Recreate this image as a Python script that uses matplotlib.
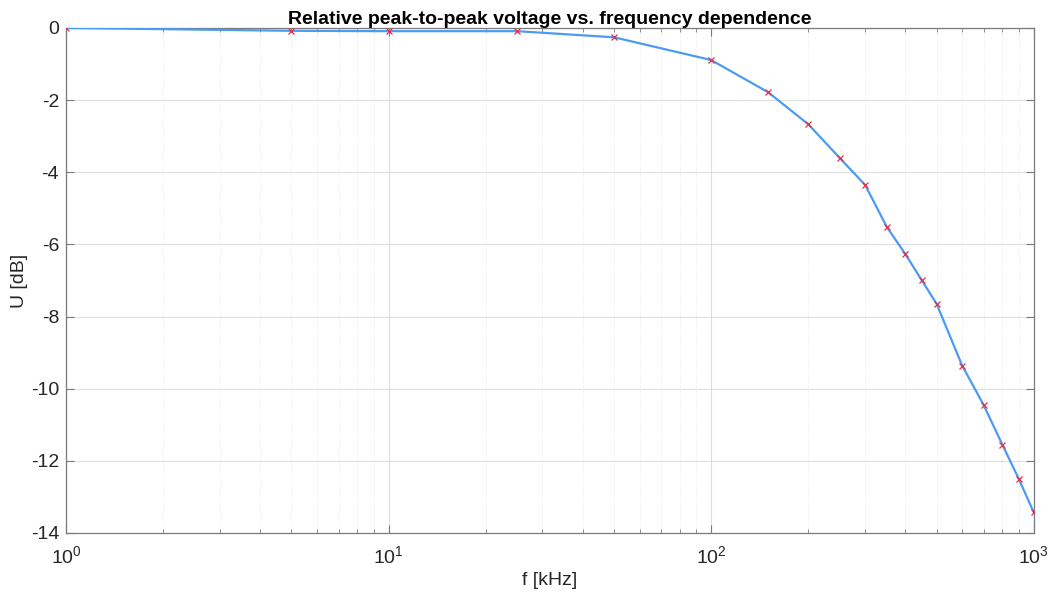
import numpy as np
import matplotlib
matplotlib.use("Agg")
import matplotlib.pyplot as plt
from matplotlib.ticker import LogLocator

plt.rcParams['font.family'] = ['Liberation Sans', 'DejaVu Sans']
plt.rcParams['axes.unicode_minus'] = False
plt.rcParams['mathtext.fontset'] = 'custom'
plt.rcParams['mathtext.rm'] = 'Liberation Sans'

# measured data
f_khz = [1, 5, 10, 25, 50, 100, 150, 200, 250, 300, 350, 400, 450, 500,
         600, 700, 800, 900, 1000]
u_db = [0.0, -0.08, -0.09, -0.09, -0.26, -0.89, -1.78, -2.67, -3.60, -4.35,
        -5.51, -6.27, -7.00, -7.65, -9.36, -10.46, -11.56, -12.51, -13.43]

fig = plt.figure(figsize=(10.57, 5.94), dpi=100)
ax = fig.add_axes([0.0624, 0.1027, 0.9156, 0.8503])

ax.semilogx(f_khz, u_db, color='#4d9bf0', linewidth=1.6, zorder=3)
ax.semilogx(f_khz, u_db, 'x', color='#e0304a', markersize=5,
            markeredgewidth=0.9, linestyle='none', zorder=4)

ax.set_xlim(1, 1000)
ax.set_ylim(-14, 0)
ax.set_yticks(np.arange(-14, 1, 2))
ax.xaxis.set_minor_locator(LogLocator(base=10, subs=np.arange(2, 10)))

ax.grid(True, which='major', color='#dedede', linewidth=0.8)
ax.grid(True, which='minor', axis='x', color='#e4e4e4', linewidth=0.6,
        linestyle=':')
ax.set_axisbelow(True)

for s in ax.spines.values():
    s.set_color('#7a7a7a')
    s.set_linewidth(0.9)
ax.tick_params(which='both', direction='in', top=True, right=True,
               colors='#7a7a7a', labelcolor='#262626', labelsize=14)
ax.tick_params(which='major', length=6)
ax.tick_params(which='minor', length=3)
ax.tick_params(axis='x', which='major', pad=9)
ax.tick_params(axis='y', which='major', pad=5)

ax.set_xlabel('f [kHz]', fontsize=14, color='#262626', labelpad=3)
ax.set_ylabel('U [dB]', fontsize=14, color='#262626', labelpad=2)
ax.set_title('Relative peak-to-peak voltage vs. frequency dependence',
             fontsize=14, fontweight='bold', pad=3)

fig.savefig('out.png', dpi=100)
plt.close(fig)
